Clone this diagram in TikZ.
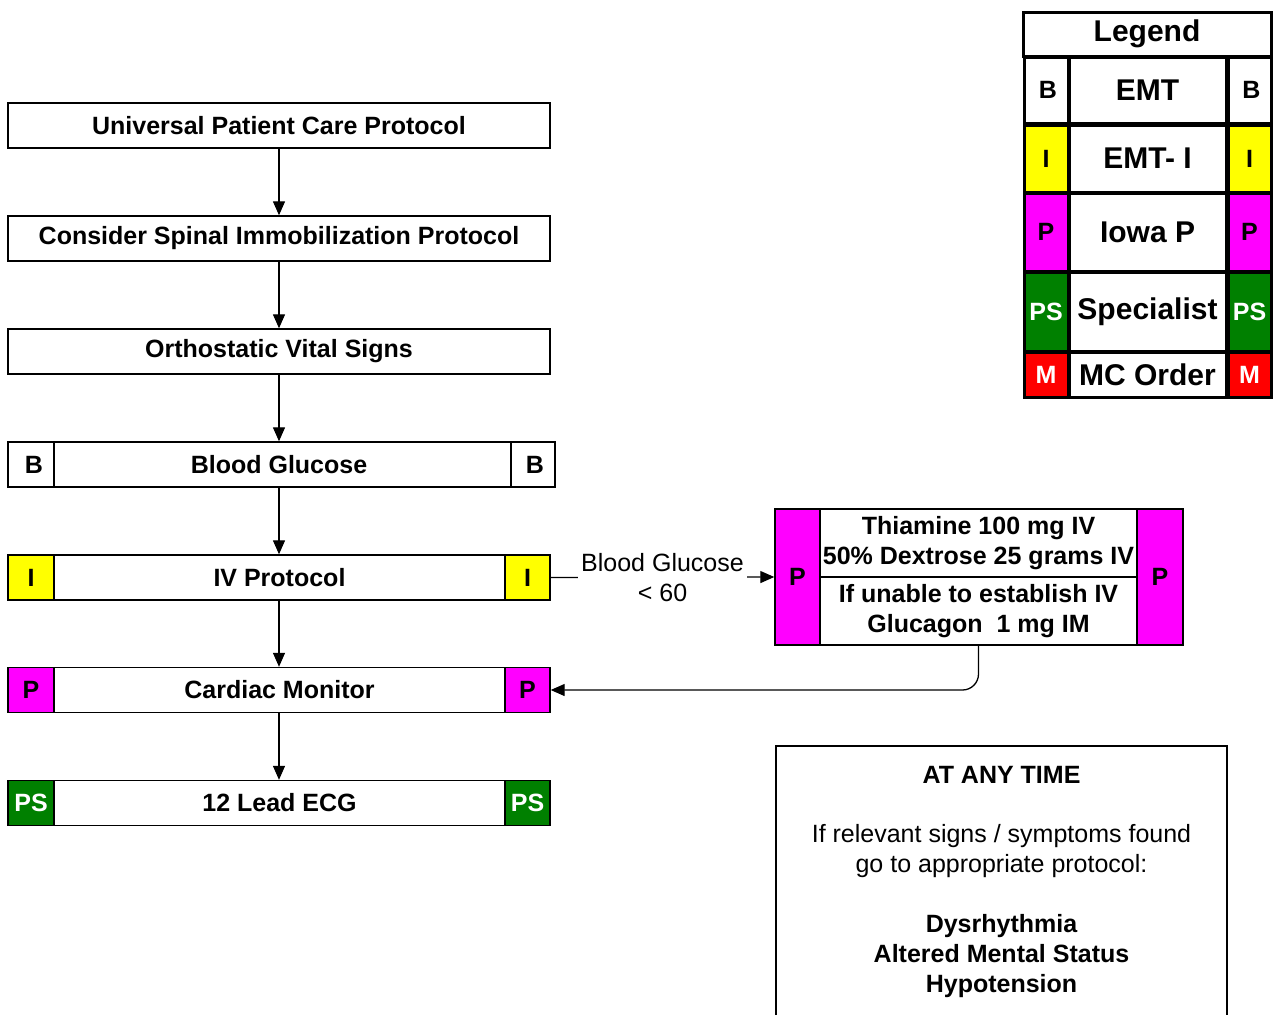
\documentclass[tikz,border=0pt]{standalone}
\usepackage{fontspec}
\setmainfont{Liberation Sans}
\usetikzlibrary{arrows.meta}
\definecolor{cyel}{HTML}{FFFF00}
\definecolor{cmag}{HTML}{FF00FF}
\definecolor{cgrn}{HTML}{008000}
\definecolor{cred}{HTML}{FF0000}
\tikzset{
  txt/.style={font=\fontsize{25}{30}\selectfont\bfseries, inner sep=0pt, align=center},
  reg/.style={font=\fontsize{25}{30}\selectfont, inner sep=0pt, align=center},
  box/.style={draw=black, line width=1.4pt, fill=white, rectangle, inner sep=0pt, txt},
  mainbox/.style={box, minimum width=542pt, minimum height=45pt},
  sidecell/.style={box, minimum width=46pt, minimum height=45pt},
  lgcell/.style={draw=black, line width=3pt, fill=white, rectangle, inner sep=0pt, txt},
  lgbig/.style={lgcell, font=\fontsize{30}{30}\selectfont\bfseries},
  arr/.style={line width=1.3pt, -{Triangle[length=14pt,width=12pt]}},
}
\begin{document}
\begin{tikzpicture}[x=1pt,y=-1pt]
\useasboundingbox (0,0) rectangle (1273,1015);
% main column
\node[mainbox] (upc) at (279,125.5) {Universal Patient Care Protocol};
\node[mainbox] (spin) at (279,238.5) {Consider Spinal Immobilization Protocol};
\node[mainbox] (orth) at (279,351.5) {Orthostatic Vital Signs};
% blood glucose
\node[box, minimum width=457pt, minimum height=45pt] (bg) at (282.5,464.5) {Blood Glucose\hspace*{7pt}};
\node[sidecell] (bgL) at (31,464.5) {\hspace*{6pt}B};
\node[box, minimum width=44pt, minimum height=45pt] (bgR) at (533,464.5) {\hspace*{4pt}B};
% IV
\node[box, minimum width=451pt, minimum height=45pt] (iv) at (279.5,577.5) {IV Protocol};
\node[sidecell, fill=cyel] (ivL) at (31,577.5) {I};
\node[box, minimum width=45pt, minimum height=45pt, fill=cyel] (ivR) at (527.5,577.5) {I};
% cardiac
\node[box, minimum width=451pt, minimum height=45pt] (cm) at (279.5,690) {Cardiac Monitor};
\node[sidecell, fill=cmag] (cmL) at (31,690) {P};
\node[box, minimum width=45pt, minimum height=45pt, fill=cmag] (cmR) at (527.5,690) {P};
% ECG
\node[box, minimum width=451pt, minimum height=45pt] (ecg) at (279.5,803) {12 Lead ECG};
\node[sidecell, fill=cgrn, text=white] (ecgL) at (31,803) {PS};
\node[box, minimum width=45pt, minimum height=45pt, fill=cgrn, text=white] (ecgR) at (527.5,803) {PS};
% arrows main
\draw[arr] (upc.south) -- (spin.north);
\draw[arr] (spin.south) -- (orth.north);
\draw[arr] (orth.south) -- (orth.south |- bg.north);
\draw[arr] (orth.south |- bg.south) -- (orth.south |- iv.north);
\draw[arr] (orth.south |- iv.south) -- (orth.south |- cm.north);
\draw[arr] (orth.south |- cm.south) -- (orth.south |- ecg.north);
% dextrose box
\node[box, minimum width=45pt, minimum height=136pt, fill=cmag] (dxL) at (797.5,577) {P};
\node[box, minimum width=46pt, minimum height=136pt, fill=cmag] (dxR) at (1160,577) {P};
\node[box, minimum width=317pt, minimum height=68pt] (dxT) at (978.5,543) {Thiamine 100 mg IV\\50\% Dextrose 25 grams IV};
\node[box, minimum width=317pt, minimum height=68pt] (dxB) at (978.5,611) {If unable to establish IV\\Glucagon\ \ 1 mg IM};
% IV -> dextrose
\draw[arr] (ivR.east) -- node[reg, fill=white, inner xsep=3pt, inner ysep=2pt] (bglbl) {Blood Glucose\\< 60} (dxL.west);
% dextrose -> cardiac
\draw[arr, rounded corners=16pt] (dxB.south) |- (cmR.east);
% legend
\node[lgbig, minimum width=248pt, minimum height=44pt] (lgh) at (1147,34) {Legend};
\node[lgcell, minimum width=44pt, minimum height=66pt] (lbL) at (1046,90) {\hspace*{4pt}B};
\node[lgbig, minimum width=157pt, minimum height=66pt] (lbM) at (1147.5,90) {EMT};
\node[lgcell, minimum width=43pt, minimum height=66pt] (lbR) at (1249.5,90) {\hspace*{4pt}B};
\node[lgcell, minimum width=44pt, minimum height=67pt, fill=cyel] (liL) at (1046,158.5) {I};
\node[lgbig, minimum width=157pt, minimum height=67pt] (liM) at (1147.5,158.5) {EMT- I};
\node[lgcell, minimum width=43pt, minimum height=67pt, fill=cyel] (liR) at (1249.5,158.5) {I};
\node[lgcell, minimum width=44pt, minimum height=78pt, fill=cmag] (lpL) at (1046,232) {P};
\node[lgbig, minimum width=157pt, minimum height=78pt] (lpM) at (1147.5,232) {Iowa P};
\node[lgcell, minimum width=43pt, minimum height=78pt, fill=cmag] (lpR) at (1249.5,232) {P};
\node[lgcell, minimum width=44pt, minimum height=79pt, fill=cgrn, text=white] (lsL) at (1046,311.5) {PS};
\node[lgbig, minimum width=157pt, minimum height=79pt] (lsM) at (1147.5,311.5) {Specialist};
\node[lgcell, minimum width=43pt, minimum height=79pt, fill=cgrn, text=white] (lsR) at (1249.5,311.5) {PS};
\node[lgcell, minimum width=44pt, minimum height=45pt, fill=cred, text=white] (lmL) at (1046,374.5) {M};
\node[lgbig, minimum width=157pt, minimum height=45pt] (lmM) at (1147.5,374.5) {MC Order};
\node[lgcell, minimum width=43pt, minimum height=45pt, fill=cred, text=white] (lmR) at (1249.5,374.5) {M};
% at any time
\coordinate (atBL) at (776,1015);
\coordinate (atTL) at (776,746);
\coordinate (atTR) at (1227,746);
\coordinate (atBR) at (1227,1015);
\draw[line width=1.4pt] (atBL) -- (atTL) -- (atTR) -- (atBR);
\node[txt] (att) at (1001.5,775) {AT ANY TIME};
\node[reg] (atp) at (1001.5,851) {If relevant signs / symptoms found\\go to appropriate protocol:};
\node[txt] (atl) at (1001.5,956) {Dysrhythmia\\Altered Mental Status\\Hypotension};
\end{tikzpicture}
\end{document}
